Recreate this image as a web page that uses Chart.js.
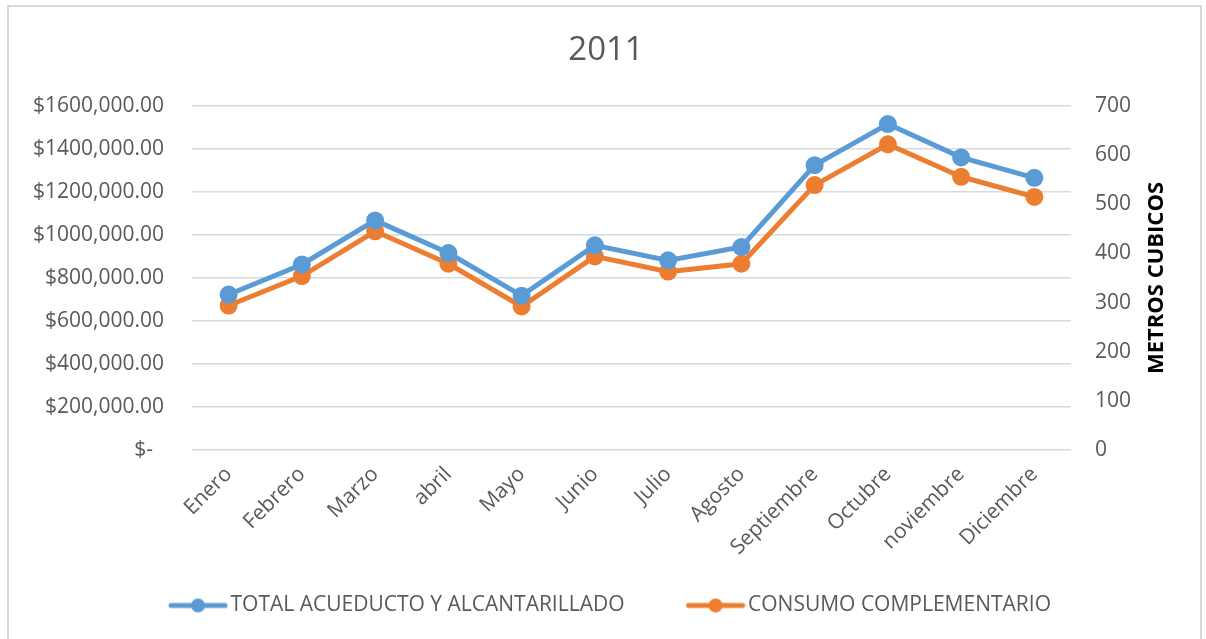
<!DOCTYPE html>
<html>
<head>
<meta charset="utf-8">
<script src="https://cdn.jsdelivr.net/npm/chart.js@4/dist/chart.umd.min.js"></script>
<style>
  html, body { margin: 0; padding: 0; background: #fff; }
  #wrap { position: relative; width: 1206px; height: 639px; }
  #frame { position: absolute; left: 7px; top: 5px; width: 1195px; height: 640px; border: 2px solid #d9d9d9; box-sizing: border-box; pointer-events: none; }
</style>
</head>
<body>
<div id="wrap">
  <canvas id="chart" width="1206" height="639"></canvas>
  <div id="frame"></div>
</div>
<script>
const months = ['Enero', 'Febrero', 'Marzo', 'abril', 'Mayo', 'Junio', 'Julio', 'Agosto', 'Septiembre', 'Octubre', 'noviembre', 'Diciembre'];

// pesos (left axis)
const totalAcueducto = [723000, 863000, 1068000, 916000, 718000, 952000, 882000, 944000, 1325000, 1516000, 1361000, 1266000];

// metros cubicos (right axis)
const consumoComplementario = [294, 354, 445, 379, 292, 394, 363, 379, 539, 622, 556, 515];

const blue = '#5b9bd5';
const orange = '#ed7d31';
const textColor = '#595959';
const FONT = "'Open Sans', sans-serif";

// legend marker: line + dot, pushed to the right so it sits next to the text
const MARK_BOX = 78;
function legendMarker(color) {
  const c = document.createElement('canvas');
  c.width = MARK_BOX + 16; c.height = 16;
  const g = c.getContext('2d');
  g.strokeStyle = color;
  g.lineWidth = 5;
  g.lineCap = 'round';
  g.beginPath(); g.moveTo(37, 8); g.lineTo(91, 8); g.stroke();
  g.fillStyle = color;
  g.beginPath(); g.arc(64, 8, 7, 0, Math.PI * 2); g.fill();
  return c;
}

// chart title + right axis title (that one reads bottom-to-top, so draw it ourselves)
const titles = {
  id: 'titles',
  afterDraw(chart) {
    const { ctx, chartArea } = chart;
    ctx.save();
    ctx.font = "33px " + FONT;
    ctx.fillStyle = textColor;
    ctx.textAlign = 'center';
    ctx.textBaseline = 'middle';
    ctx.fillText('2011', 606, 51);

    ctx.translate(1157, (chartArea.top + chartArea.bottom) / 2);
    ctx.rotate(-Math.PI / 2);
    ctx.font = "bold 22px " + FONT;
    ctx.fillStyle = '#000';
    ctx.fillText('METROS CUBICOS', 0, 0);
    ctx.restore();
  }
};

new Chart(document.getElementById('chart'), {
  type: 'line',
  data: {
    labels: months,
    datasets: [
      {
        label: 'TOTAL ACUEDUCTO Y ALCANTARILLADO',
        data: totalAcueducto,
        yAxisID: 'y',
        borderColor: blue,
        backgroundColor: blue,
        borderWidth: 5,
        pointRadius: 6.5,
        pointHoverRadius: 6.5,
        pointStyle: 'circle',
        tension: 0
      },
      {
        label: 'CONSUMO COMPLEMENTARIO',
        data: consumoComplementario,
        yAxisID: 'y1',
        borderColor: orange,
        backgroundColor: orange,
        borderWidth: 5,
        pointRadius: 6.5,
        pointHoverRadius: 6.5,
        pointStyle: 'circle',
        tension: 0
      }
    ]
  },
  options: {
    responsive: false,
    animation: false,
    layout: { padding: { left: 0, right: 13, top: 106, bottom: 13 } },
    plugins: {
      title: { display: false },
      legend: {
        position: 'bottom',
        labels: {
          color: textColor,
          font: { family: FONT, size: 21 },
          usePointStyle: true,
          pointStyleWidth: MARK_BOX,
          padding: 35,
          generateLabels(chart) {
            return chart.data.datasets.map((ds, i) => ({
              text: ds.label,
              fillStyle: ds.borderColor,
              strokeStyle: ds.borderColor,
              fontColor: textColor,
              pointStyle: legendMarker(ds.borderColor),
              datasetIndex: i,
              hidden: false
            }));
          }
        }
      },
      tooltip: { enabled: false }
    },
    scales: {
      x: {
        offset: true,
        grid: { display: false, drawTicks: false },
        border: { display: false },
        ticks: {
          color: textColor,
          font: { family: FONT, size: 21 },
          minRotation: 45,
          maxRotation: 45,
          padding: 12
        },
        afterFit(scale) { scale.height = 110; }
      },
      y: {
        position: 'left',
        min: 0,
        max: 1600000,
        grid: { color: '#d9d9d9', lineWidth: 1.5, drawTicks: false },
        border: { display: false },
        ticks: {
          stepSize: 200000,
          color: textColor,
          font: { family: FONT, size: 21 },
          padding: 28,
          callback: v => v === 0 ? '$-  ' : '$' + (v / 1000) + ',000.00'
        },
        afterFit(scale) { scale.width = 192; }
      },
      y1: {
        position: 'right',
        min: 0,
        max: 700,
        grid: { drawOnChartArea: false, drawTicks: false },
        border: { display: false },
        ticks: {
          stepSize: 100,
          color: textColor,
          font: { family: FONT, size: 21 },
          padding: 24
        },
        afterFit(scale) { scale.width = 122; }
      }
    }
  },
  plugins: [titles]
});
</script>
</body>
</html>
